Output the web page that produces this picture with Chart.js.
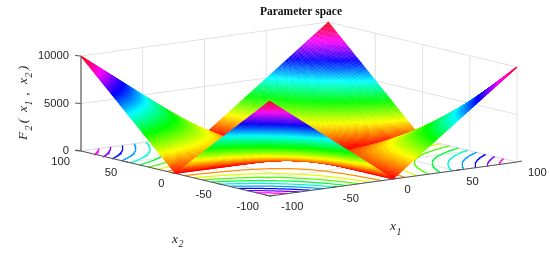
<!DOCTYPE html>
<html>
<head>
<meta charset="utf-8">
<script src="https://cdn.jsdelivr.net/npm/chart.js@4/dist/chart.umd.min.js"></script>
<style>
html,body{margin:0;padding:0;background:#fff}
#wrap{width:550px;height:253px;position:relative}
</style>
</head>
<body>
<div id="wrap"><canvas id="c" width="550" height="253"></canvas></div>
<script>
// ---- data ----
const titleText = "Parameter space";
const axisTicks = [-100, -50, 0, 50, 100];
const zTicks = [0, 5000, 10000];
const contourLevels = [950, 1900, 2850, 3800, 4750, 5700, 6650, 7600, 8550];
const gridX1 = [-100, -75, -50, -25, 0, 25, 50, 75, 100];
const gridX2 = [-100, -75, -50, -25, 0, 25, 50, 75, 100];
// surface height, one row per gridX2 value, one column per gridX1 value
const surfaceZ = [
  [10000, 7500, 5000, 2500, 0, 2500, 5000, 7500, 10000],
  [ 7500, 5625, 3750, 1875, 0, 1875, 3750, 5625,  7500],
  [ 5000, 3750, 2500, 1250, 0, 1250, 2500, 3750,  5000],
  [ 2500, 1875, 1250,  625, 0,  625, 1250, 1875,  2500],
  [    0,    0,    0,    0, 0,    0,    0,    0,     0],
  [ 2500, 1875, 1250,  625, 0,  625, 1250, 1875,  2500],
  [ 5000, 3750, 2500, 1250, 0, 1250, 2500, 3750,  5000],
  [ 7500, 5625, 3750, 1875, 0, 1875, 3750, 5625,  7500],
  [10000, 7500, 5000, 2500, 0, 2500, 5000, 7500, 10000]
];

// ---- view ----
function project(x1, x2, z) {
  return {
    x: 270 + 1.235 * (x1 + 100) - 0.945 * (x2 + 100),
    y: 196 - 0.17 * (x1 + 100) - 0.225 * (x2 + 100) - 0.0095 * z
  };
}
function hsvColor(z) {
  const lvl = Math.min(63, Math.floor(z / 10000 * 64));
  return "hsl(" + (lvl / 64 * 360).toFixed(1) + ",100%,50%)";
}
// shading of a table cell: value of the surface between table nodes
function heightAt(x1, x2) {
  const cell = (g, v) => Math.min(g.length - 2, Math.max(0, Math.floor((v - g[0]) / (g[1] - g[0]))));
  const i = cell(gridX1, x1), j = cell(gridX2, x2);
  const u = (x1 - gridX1[i]) / (gridX1[i + 1] - gridX1[i]);
  const v = (x2 - gridX2[j]) / (gridX2[j + 1] - gridX2[j]);
  return (1 - v) * ((1 - u) * surfaceZ[j][i] + u * surfaceZ[j][i + 1]) +
         v * ((1 - u) * surfaceZ[j + 1][i] + u * surfaceZ[j + 1][i + 1]);
}
function plain(points, color, width) {
  return {data: points, borderColor: color, borderWidth: width, pointRadius: 0,
          fill: false, tension: 0, clip: false, parsing: false, normalized: false};
}
const layers = [];

// back walls and floor grid
const GRID = "#e2e2e2";
for (const t of axisTicks) {
  layers.push(plain([project(t, 100, 0), project(t, 100, 10000)], GRID, 1));
  layers.push(plain([project(100, t, 0), project(100, t, 10000)], GRID, 1));
  layers.push(plain([project(t, -100, 0), project(t, 100, 0)], GRID, 1));
  layers.push(plain([project(-100, t, 0), project(100, t, 0)], GRID, 1));
}
for (const z of zTicks) {
  layers.push(plain([project(-100, 100, z), project(100, 100, z), project(100, -100, z)], GRID, 1));
}

// floor contours
for (const level of contourLevels) {
  for (const sx of [-1, 1]) for (const sy of [-1, 1]) {
    const pts = [];
    for (let a = level / 100; a <= 100.001; a += 0.5) {
      const x1 = sx * a;
      let prev = 0, pz = heightAt(x1, 0);
      for (let b = 25; b <= 100; b += 25) {
        const bz = heightAt(x1, sy * b);
        if (pz <= level && bz >= level && bz > pz) {
          const r = prev + (b - prev) * (level - pz) / (bz - pz);
          pts.push(project(x1, sy * r, 0));
          break;
        }
        prev = b; pz = bz;
      }
    }
    layers.push(plain(pts, hsvColor(level), 1.25));
  }
}

// z axis and front box edges with ticks
layers.push(plain([project(-100, 100, 0), project(-100, 100, 10000)], "#9a9a9a", 2));
for (const z of zTicks) {
  const p = project(-100, 100, z);
  layers.push(plain([{x: p.x - 6, y: p.y - 0.5}, p], "#555", 1));
}
layers.push(plain([project(-100, 100, 0), project(-100, -100, 0), project(100, -100, 0)], "#555", 1));
for (const t of axisTicks) {
  const a = project(-100, t, 0), b = project(t, -100, 0);
  layers.push(plain([a, {x: a.x - 5, y: a.y - 1}], "#555", 1));
  layers.push(plain([b, {x: b.x + 5, y: b.y - 1}], "#555", 1));
}

// surface: swept back to front as closely spaced coloured lines
for (let x1 = 100; x1 >= -100; x1 -= 0.5) {
  const pts = [], cols = [];
  for (let x2 = 100; x2 >= -100; x2 -= 2) {
    const z = heightAt(x1, x2);
    const p = project(x1, x2, z);
    p.z = z;
    pts.push(p);
    cols.push(hsvColor(Math.max(0, z)));
  }
  const ds = plain(pts, "#ff0000", 1.1);
  ds.borderCapStyle = "butt";
  ds.segment = {borderColor: ctx => cols[ctx.p0DataIndex]};
  layers.push(ds);
}

const labelPlugin = {
  id: "labels",
  afterDraw(chart) {
    const {ctx, scales: {x, y}} = chart;
    const px = v => x.getPixelForValue(v), py = v => y.getPixelForValue(v);
    ctx.save();
    ctx.fillStyle = "#262626";
    ctx.font = "11.2px 'Liberation Sans'";
    ctx.textBaseline = "middle";
    ctx.textAlign = "right";
    for (const t of axisTicks) {
      const p = project(-100, t, 0);
      ctx.fillText(String(t), px(p.x - 11), py(p.y + 10.5));
    }
    for (const z of zTicks) {
      const p = project(-100, 100, z);
      ctx.fillText(String(z), px(p.x - 12), py(p.y));
    }
    ctx.textAlign = "left";
    for (const t of axisTicks) {
      const p = project(t, -100, 0);
      ctx.fillText(String(t), px(p.x + 11), py(p.y + 11));
    }
    ctx.fillStyle = "#111";
    ctx.textAlign = "center";
    ctx.font = "bold 11.5px 'Liberation Serif'";
    ctx.fillText(titleText, px(301), py(12));

    const it = "italic 13.5px 'Liberation Serif'", sub = "italic 10px 'Liberation Serif'";
    ctx.fillStyle = "#262626";
    ctx.textAlign = "center";
    ctx.font = it; ctx.fillText("x", px(393), py(226));
    ctx.font = sub; ctx.fillText("1", px(399), py(232));
    ctx.font = it; ctx.fillText("x", px(175), py(239));
    ctx.font = sub; ctx.fillText("2", px(181), py(244));
    // rotated z label
    const parts = [["F", 136, 23, it], ["2", 128, 29, sub], ["(", 121, 23, it],
                   ["x", 109, 23, it], ["1", 103, 29, sub], [",", 94, 24, it],
                   ["x", 81, 23, it], ["2", 75, 29, sub], [")", 68, 23, it]];
    for (const [s, yy, xx, f] of parts) {
      ctx.save();
      ctx.translate(px(xx), py(yy));
      ctx.rotate(-Math.PI / 2);
      ctx.font = f;
      ctx.fillText(s, 0, 0);
      ctx.restore();
    }
    ctx.restore();
  }
};

new Chart(document.getElementById("c"), {
  type: "line",
  // Chart.js paints dataset 0 last, so the painting order is reversed here
  data: {datasets: layers.slice().reverse()},
  plugins: [labelPlugin],
  options: {
    responsive: false,
    animation: false,
    events: [],
    layout: {padding: 0},
    plugins: {legend: {display: false}, tooltip: {enabled: false}, title: {display: false}},
    scales: {
      x: {type: "linear", min: 0, max: 550, display: false},
      y: {type: "linear", min: 0, max: 253, reverse: true, display: false}
    }
  }
});
</script>
</body>
</html>
